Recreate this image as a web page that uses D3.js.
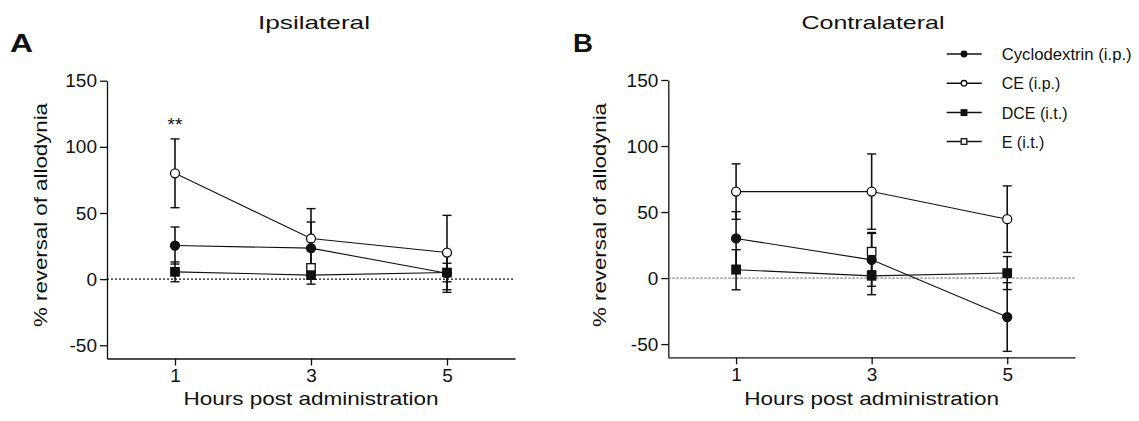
<!DOCTYPE html>
<html>
<head>
<meta charset="utf-8">
<script src="https://cdn.jsdelivr.net/npm/d3@7"></script>
<style>
  html, body { margin: 0; padding: 0; background: #fff; }
  svg { display: block; font-family: "Liberation Sans", Arial, Helvetica, sans-serif; }
</style>
</head>
<body>
<svg id="chart" width="1139" height="421"></svg>
<script>
// Time points (hours post administration)
const hours = [1, 3, 5];
const xTicks = [1, 3, 5];
const yTicks = [-50, 0, 50, 100, 150];
const seriesNames = ["Cyclodextrin (i.p.)", "CE (i.p.)", "DCE (i.t.)", "E (i.t.)"];

// Ipsilateral: mean % reversal of allodynia and SEM
const ipsiCyclodextrin    = [25.4, 23.4, 4.5];
const ipsiCyclodextrinSem = [14.0, 19.8, 14.5];
const ipsiCE              = [80.0, 30.7, 20.1];
const ipsiCESem           = [26.0, 22.6, 28.1];
const ipsiDCE             = [5.5, 3.0, 5.0];
const ipsiDCESem          = [7.5, 6.8, 7.0];
const ipsiE               = [null, 8.5, null];
const ipsiESem            = [null, 3.0, null];

// Contralateral: mean % reversal of allodynia and SEM
const contraCyclodextrin    = [30.0, 13.8, -29.5];
const contraCyclodextrinSem = [20.3, 20.0, 26.0];
const contraCE              = [65.5, 65.5, 44.6];
const contraCESem           = [21.0, 28.5, 25.2];
const contraDCE             = [6.3, 1.7, 3.8];
const contraDCESem          = [15.2, 14.3, 12.5];
const contraE               = [null, 20.0, null];
const contraESem            = [null, 14.5, null];

const svg = d3.select("#chart");
const ink = "#111";

// Marker drawing for each series: filled circle, open circle, filled square, open square
const markerStyle = [
  { shape: "circle", fill: ink },
  { shape: "circle", fill: "#fff" },
  { shape: "square", fill: ink },
  { shape: "square", fill: "#fff" }
];

function drawMarker(g, shape, fill, x, y, size) {
  if (shape === "circle") {
    g.append("circle").attr("cx", x).attr("cy", y).attr("r", size)
      .attr("fill", fill).attr("stroke", ink).attr("stroke-width", 1.3);
  } else {
    g.append("rect").attr("x", x - size).attr("y", y - size)
      .attr("width", size * 2).attr("height", size * 2)
      .attr("fill", fill).attr("stroke", ink).attr("stroke-width", 1.3);
  }
}

function panel(opts) {
  const x = d3.scaleLinear().domain([0, 6]).range([opts.left, opts.right]);
  const y = d3.scaleLinear().domain([-60, 150]).range([opts.bottom, opts.top]);
  const g = svg.append("g");

  // Axes
  const yAxis = g.append("g").attr("transform", `translate(${opts.left},0)`)
    .call(d3.axisLeft(y).tickValues(yTicks).tickFormat(d => String(d))
      .tickSize(7).tickSizeOuter(0).tickPadding(3));
  const xAxis = g.append("g").attr("transform", `translate(0,${opts.bottom})`)
    .call(d3.axisBottom(x).tickValues(xTicks).tickFormat(d => String(d))
      .tickSize(7).tickSizeOuter(0).tickPadding(3));
  [yAxis, xAxis].forEach(a => {
    a.selectAll("path.domain").attr("stroke", ink).attr("stroke-width", 1.3);
    a.selectAll(".tick line").attr("stroke", ink).attr("stroke-width", 1.3);
    a.selectAll(".tick text").attr("fill", ink).attr("font-size", 19)
      .attr("font-family", "\"Liberation Sans\", Arial, sans-serif");
  });

  // Zero reference line
  g.append("line")
    .attr("x1", x(0)).attr("x2", x(6)).attr("y1", y(0)).attr("y2", y(0))
    .attr("stroke", opts.zeroColor).attr("stroke-width", opts.zeroWidth)
    .attr("stroke-dasharray", opts.zeroDash);

  // Series lines
  const line = d3.line().defined(d => d.v != null).x(d => x(d.h)).y(d => y(d.v));
  const order = [3, 2, 1, 0];
  order.forEach(i => {
    const pts = hours.map((h, k) => ({ h, v: opts.means[i][k], s: opts.sems[i][k] }));
    g.append("path").datum(pts).attr("d", line)
      .attr("fill", "none").attr("stroke", ink).attr("stroke-width", 1.1);
  });

  // Error bars
  order.forEach(i => {
    hours.forEach((h, k) => {
      const v = opts.means[i][k], s = opts.sems[i][k];
      if (v == null) return;
      const cx = x(h);
      g.append("line").attr("x1", cx).attr("x2", cx).attr("y1", y(v - s)).attr("y2", y(v + s))
        .attr("stroke", ink).attr("stroke-width", 1.6);
      [v - s, v + s].forEach(e => {
        g.append("line").attr("x1", cx - 4.5).attr("x2", cx + 4.5).attr("y1", y(e)).attr("y2", y(e))
          .attr("stroke", ink).attr("stroke-width", 1.4);
      });
    });
  });

  // Markers
  order.forEach(i => {
    hours.forEach((h, k) => {
      const v = opts.means[i][k];
      if (v == null) return;
      const m = markerStyle[i];
      drawMarker(g, m.shape, m.fill, x(h), y(v), m.shape === "circle" ? 4.5 : 4.2);
    });
  });

  // Panel title and letter
  g.append("text").attr("x", opts.titleX).attr("y", 29).attr("text-anchor", "middle")
    .attr("font-size", 18.5).attr("fill", ink)
    .attr("textLength", opts.titleLen).attr("lengthAdjust", "spacingAndGlyphs")
    .text(opts.title);
  g.append("text").attr("x", opts.letterX).attr("y", 52)
    .attr("font-size", 26).attr("font-weight", "bold").attr("fill", ink)
    .attr("textLength", opts.letterLen).attr("lengthAdjust", "spacingAndGlyphs")
    .text(opts.letter);

  // Axis titles
  g.append("text").attr("transform", `translate(${opts.yLabelX},215) rotate(-90)`)
    .attr("text-anchor", "middle").attr("font-size", 18.5).attr("fill", ink)
    .attr("textLength", 224).attr("lengthAdjust", "spacingAndGlyphs")
    .text("% reversal of allodynia");
  g.append("text").attr("x", (x(1) + x(5)) / 2).attr("y", 405).attr("text-anchor", "middle")
    .attr("font-size", 18.5).attr("fill", ink)
    .attr("textLength", 255).attr("lengthAdjust", "spacingAndGlyphs")
    .text("Hours post administration");

  return { x, y, g };
}

const A = panel({
  left: 107, right: 515, top: 80.7, bottom: 358.5,
  means: [ipsiCyclodextrin, ipsiCE, ipsiDCE, ipsiE],
  sems: [ipsiCyclodextrinSem, ipsiCESem, ipsiDCESem, ipsiESem],
  zeroColor: "#111", zeroWidth: 1.4, zeroDash: "2,2",
  title: "Ipsilateral", titleX: 314, titleLen: 112,
  letter: "A", letterX: 10, letterLen: 23,
  yLabelX: 47
});

// Significance marker above CE at 1 h
A.g.append("text").attr("x", A.x(1)).attr("y", 131).attr("text-anchor", "middle")
  .attr("font-size", 19).attr("fill", ink).text("**");

const B = panel({
  left: 668.3, right: 1075, top: 80, bottom: 357.3,
  means: [contraCyclodextrin, contraCE, contraDCE, contraE],
  sems: [contraCyclodextrinSem, contraCESem, contraDCESem, contraESem],
  zeroColor: "#555", zeroWidth: 0.9, zeroDash: "2.5,1.5",
  title: "Contralateral", titleX: 873, titleLen: 143,
  letter: "B", letterX: 573, letterLen: 20,
  yLabelX: 605.5
});

// Legend
const legend = svg.append("g");
const legendY = [54, 83.3, 112.6, 141.5];
seriesNames.forEach((name, i) => {
  const ly = legendY[i];
  legend.append("line").attr("x1", 946.7).attr("x2", 981.7).attr("y1", ly).attr("y2", ly)
    .attr("stroke", ink).attr("stroke-width", 1.5);
  const m = markerStyle[i];
  drawMarker(legend, m.shape, m.fill, 964, ly, 2.8);
  const t = legend.append("text").attr("x", 1001.7).attr("y", ly + 6)
    .attr("font-size", 16).attr("fill", ink).text(name);
  if (i === 0) t.attr("textLength", 130).attr("lengthAdjust", "spacingAndGlyphs");
});
</script>
</body>
</html>
